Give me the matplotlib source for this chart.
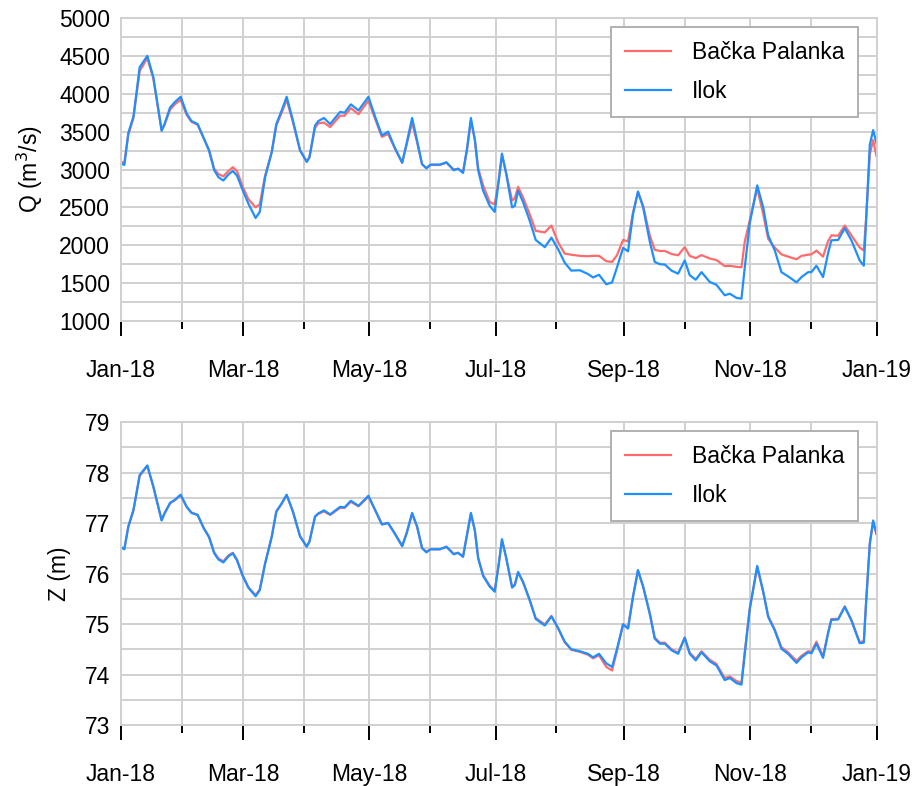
import numpy as np
import pandas as pd
import matplotlib
matplotlib.use('Agg')
import matplotlib.pyplot as plt

plt.rcParams['font.family'] = ['Liberation Sans', 'DejaVu Sans']

# days after 1 Jan 2018
day = [0, 1.6, 3.5, 6, 9, 12.7, 15.6, 19.6, 21, 23.7, 26, 28.8, 31.7, 34, 37, 40, 42.5, 45, 47, 49.4,
       51.9, 54, 56, 58.8, 61.5, 65, 67, 69.6, 72.8, 75, 77.6, 80, 83, 86.5, 89.7, 91, 93.7, 95.3, 98, 101,
       105.8, 108, 111, 114.7, 119.5, 122.7, 126, 129, 132.2, 135.8, 137.9, 140.6, 143, 145.4, 147.5, 149.5,
       154, 157.2, 160.7, 162.8, 165.2, 167.2, 169, 170.9, 172.5, 174.9, 178.1, 180.5, 182.5, 184, 186,
       188.9, 190.2, 191.8, 194.2, 197.4, 200.3, 204.7, 207.9, 211.1, 214.3, 217.5, 221.6, 225.6, 228,
       230.9, 234.4, 237.2, 239.6, 242.5, 244.9, 247.3, 249.7, 252.2, 255.4, 257.8, 260.3, 262.7, 265.9,
       269.1, 272.3, 274.7, 277.6, 280.4, 284.4, 287.6, 291.6, 294.1, 297.3, 299.7, 301.3, 303.7, 307.3,
       310.2, 312.6, 315.8, 319, 322.2, 326.3, 328.7, 331.9, 333.5, 335.9, 339.1, 341.5, 343.1, 346.4,
       349.6, 352.8, 356.8, 358.8, 360, 361.7, 363.3, 364.9]

q_ilok = [3080, 3060, 3480, 3700, 4350, 4500, 4220, 3510, 3600, 3820, 3890, 3960, 3740, 3640, 3600, 3410,
          3250, 2990, 2900, 2855, 2935, 2980, 2920, 2725, 2550, 2360, 2440, 2900, 3230, 3600, 3780, 3960,
          3650, 3250, 3100, 3160, 3580, 3640, 3680, 3600, 3760, 3750, 3860, 3780, 3960, 3700, 3450, 3500,
          3290, 3090, 3340, 3680, 3380, 3070, 3015, 3065, 3065, 3095, 2990, 3010, 2955, 3290, 3680, 3390,
          2990, 2720, 2520, 2440, 2860, 3210, 2950, 2500, 2520, 2720, 2570, 2325, 2070, 1975, 2100, 1950,
          1770, 1665, 1670, 1620, 1575, 1610, 1485, 1510, 1710, 1965, 1920, 2410, 2710, 2500, 2050, 1780,
          1750, 1745, 1665, 1625, 1800, 1605, 1545, 1645, 1515, 1478, 1340, 1360, 1305, 1295, 1710, 2290,
          2790, 2500, 2130, 1930, 1645, 1590, 1510, 1580, 1645, 1645, 1730, 1580, 1890, 2065, 2070, 2225,
          2065, 1800, 1730, 2370, 3330, 3520, 3350]

q_backa = [3100, 3090, 3460, 3680, 4300, 4470, 4200, 3520, 3590, 3790, 3860, 3920, 3720, 3630, 3590, 3410,
           3260, 3010, 2940, 2910, 2980, 3030, 2980, 2770, 2610, 2500, 2540, 2920, 3230, 3580, 3750, 3920,
           3630, 3250, 3110, 3160, 3550, 3610, 3620, 3560, 3710, 3710, 3810, 3730, 3910, 3670, 3430, 3470,
           3280, 3090, 3320, 3620, 3360, 3070, 3020, 3060, 3060, 3090, 3000, 3010, 2970, 3270, 3640, 3400,
           3020, 2790, 2570, 2540, 2870, 3190, 2960, 2590, 2620, 2770, 2630, 2410, 2190, 2170, 2260, 2040,
           1890, 1875, 1860, 1855, 1860, 1860, 1790, 1780, 1870, 2070, 2050, 2430, 2700, 2520, 2130, 1940,
           1925, 1925, 1885, 1868, 1975, 1860, 1830, 1870, 1825, 1805, 1725, 1728, 1715, 1710, 2050, 2330,
           2750, 2410, 2085, 1970, 1880, 1850, 1815, 1860, 1875, 1880, 1930, 1850, 2050, 2130, 2125, 2260,
           2130, 1970, 1930, 2400, 3200, 3390, 3180]

z_ilok = [76.52, 76.48, 76.93, 77.26, 77.95, 78.14, 77.72, 77.05, 77.19, 77.40, 77.46, 77.56, 77.32, 77.20,
          77.16, 76.89, 76.72, 76.40, 76.28, 76.22, 76.34, 76.40, 76.26, 75.95, 75.72, 75.55, 75.67, 76.20,
          76.73, 77.23, 77.39, 77.56, 77.23, 76.73, 76.53, 76.63, 77.13, 77.19, 77.25, 77.17, 77.32, 77.31,
          77.44, 77.34, 77.54, 77.26, 76.97, 77.00, 76.79, 76.54, 76.79, 77.20, 76.93, 76.50, 76.42, 76.48,
          76.48, 76.53, 76.38, 76.41, 76.33, 76.79, 77.20, 76.85, 76.30, 75.95, 75.74, 75.64, 76.20, 76.68,
          76.32, 75.72, 75.77, 76.03, 75.83, 75.47, 75.10, 74.97, 75.15, 74.92, 74.65, 74.50, 74.46, 74.41,
          74.34, 74.41, 74.22, 74.15, 74.51, 74.99, 74.91, 75.54, 76.07, 75.74, 75.20, 74.71, 74.61, 74.61,
          74.48, 74.41, 74.73, 74.41, 74.28, 74.44, 74.26, 74.18, 73.89, 73.93, 73.83, 73.80, 74.41, 75.30,
          76.15, 75.64, 75.14, 74.87, 74.51, 74.41, 74.23, 74.34, 74.44, 74.42, 74.61, 74.33, 74.81, 75.08,
          75.09, 75.34, 75.07, 74.62, 74.63, 75.50, 76.60, 77.05, 76.79]

z_backa = [76.52, 76.49, 76.92, 77.25, 77.93, 78.13, 77.72, 77.06, 77.19, 77.39, 77.45, 77.55, 77.32, 77.21,
           77.16, 76.90, 76.73, 76.42, 76.30, 76.24, 76.36, 76.41, 76.28, 75.96, 75.73, 75.57, 75.68, 76.20,
           76.73, 77.22, 77.38, 77.55, 77.23, 76.74, 76.54, 76.63, 77.12, 77.18, 77.23, 77.16, 77.30, 77.30,
           77.42, 77.33, 77.52, 77.26, 76.98, 77.00, 76.80, 76.55, 76.79, 77.18, 76.93, 76.51, 76.43, 76.48,
           76.48, 76.53, 76.39, 76.41, 76.34, 76.78, 77.18, 76.86, 76.32, 75.97, 75.76, 75.66, 76.20, 76.66,
           76.32, 75.74, 75.78, 76.02, 75.83, 75.48, 75.12, 74.99, 75.16, 74.92, 74.64, 74.49, 74.45, 74.39,
           74.32, 74.38, 74.15, 74.08, 74.48, 75.00, 74.92, 75.54, 76.05, 75.74, 75.22, 74.73, 74.63, 74.63,
           74.50, 74.43, 74.73, 74.43, 74.31, 74.46, 74.29, 74.21, 73.93, 73.96, 73.87, 73.84, 74.45, 75.30,
           76.12, 75.64, 75.16, 74.89, 74.54, 74.44, 74.27, 74.37, 74.46, 74.45, 74.65, 74.36, 74.82, 75.10,
           75.10, 75.35, 75.08, 74.64, 74.66, 75.50, 76.58, 77.02, 76.78]

month_labels = ['Jan-18', 'Mar-18', 'May-18', 'Jul-18', 'Sep-18', 'Nov-18', 'Jan-19']

dates = pd.Timestamp('2018-01-01') + pd.to_timedelta(day, unit='D')
major = pd.date_range('2018-01-01', '2019-01-01', freq='2MS')
minor = major[:-1] + pd.Timedelta(days=29.25)

red = '#ff6b6b'
blue = '#1e8fff'
grid = '#d0d0d0'
fs = 16.5

fig = plt.figure(figsize=(9.17, 7.86), dpi=100)
ax1 = fig.add_axes([0.132, 0.5916, 0.824, 0.3855])
ax2 = fig.add_axes([0.132, 0.0776, 0.824, 0.3855])


def style(ax, ylo, yhi, ystep, ygrid):
    ax.set_xlim(pd.Timestamp('2018-01-01'), pd.Timestamp('2019-01-01'))
    ax.set_ylim(ylo, yhi)
    ax.set_yticks(np.arange(ylo, yhi + ystep / 2, ystep))
    ax.set_yticks(np.arange(ylo, yhi + ygrid / 2, ygrid), minor=True)
    ax.set_xticks(major)
    ax.set_xticklabels(month_labels)
    ax.set_xticks(minor, minor=True)
    ax.grid(True, which='both', color=grid, linewidth=1.4)
    ax.set_axisbelow(True)
    for s in ax.spines.values():
        s.set_color(grid)
        s.set_linewidth(1.4)
    ax.tick_params(axis='x', which='major', length=11, width=1.4, color='black', pad=16, labelsize=fs)
    ax.tick_params(axis='x', which='minor', length=5.5, width=1.4, color='black')
    ax.tick_params(axis='y', which='both', length=0, pad=8, labelsize=fs)
    leg = ax.legend(loc='upper right', bbox_to_anchor=(0.975, 0.97), fontsize=fs, fancybox=False,
                    framealpha=1, edgecolor='#b0b0b0', handlelength=2.0, handletextpad=0.9,
                    labelspacing=0.7, borderpad=0.6, borderaxespad=0)
    leg.get_frame().set_linewidth(1.4)


ax1.plot(dates, q_backa, color=red, lw=1.6, solid_joinstyle='round', label='Bačka Palanka')
ax1.plot(dates, q_ilok, color=blue, lw=1.6, solid_joinstyle='round', label='Ilok')
style(ax1, 1000, 5000, 500, 250)
ax1.set_ylabel('Q (m$^3$/s)', fontsize=fs, labelpad=10)

ax2.plot(dates, z_backa, color=red, lw=1.6, solid_joinstyle='round', label='Bačka Palanka')
ax2.plot(dates, z_ilok, color=blue, lw=1.6, solid_joinstyle='round', label='Ilok')
style(ax2, 73, 79, 1, 0.5)
ax2.set_ylabel('Z (m)', fontsize=fs, labelpad=10)

fig.savefig('out.png', dpi=100)
